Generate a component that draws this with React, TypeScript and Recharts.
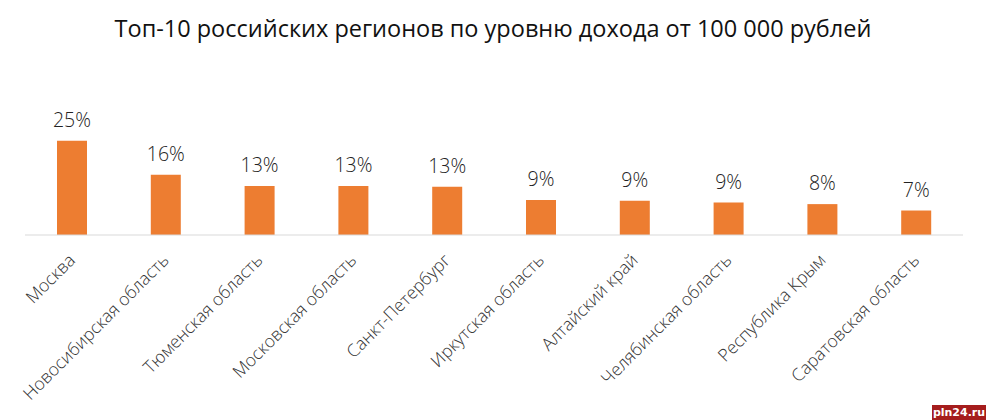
import React from "react"
import { BarChart, Bar, XAxis, YAxis, LabelList } from "recharts"

const regions = [
  "Москва",
  "Новосибирская область",
  "Тюменская область",
  "Московская область",
  "Санкт-Петербург",
  "Иркутская область",
  "Алтайский край",
  "Челябинская область",
  "Республика Крым",
  "Саратовская область",
]

// доля, %
const shares = [25, 16, 13, 13, 12.8, 9.3, 9.1, 8.6, 8.2, 6.5]

const title = "Топ-10 российских регионов по уровню дохода от 100 000 рублей"

const data = regions.map((name, i) => ({ name, share: shares[i] }))

const FONT = "'Open Sans', sans-serif"

function RegionTick(props: any) {
  const { x, y, payload } = props
  return (
    <g transform={`translate(${x},${y + 14}) rotate(-45)`}>
      <text
        x={0}
        y={0}
        dy="0.35em"
        textAnchor="end"
        fill="#333"
        fontSize={17.5}
        fontWeight={300}
        fontFamily={FONT}
      >
        {payload.value}
      </text>
    </g>
  )
}

export default function App() {
  return (
    <div
      style={{
        position: "fixed",
        left: 0,
        top: 0,
        width: 986,
        height: 420,
        background: "#fff",
        overflow: "hidden",
      }}
    >
      <div
        style={{
          position: "absolute",
          left: 0,
          top: 12,
          width: 986,
          textAlign: "center",
          fontFamily: FONT,
          fontSize: 23.5,
          color: "#111",
          whiteSpace: "nowrap",
        }}
      >
        {title}
      </div>

      <BarChart
        width={986}
        height={420}
        data={data}
        margin={{ top: 122, right: 23, bottom: 0, left: 25 }}
      >
        <YAxis hide domain={[0, 30]} />
        <XAxis
          dataKey="name"
          height={185}
          interval={0}
          tickLine={false}
          axisLine={{ stroke: "#d9d9d9", strokeWidth: 1 }}
          tick={<RegionTick />}
        />
        <Bar dataKey="share" fill="#ED7D31" barSize={30} isAnimationActive={false}>
          <LabelList
            dataKey="share"
            position="top"
            offset={14}
            formatter={(v: any) => `${Math.round(Number(v))}%`}
            fill="#222"
            fontSize={19.5}
            fontWeight={300}
            fontFamily={FONT}
          />
        </Bar>
      </BarChart>

      <div
        style={{
          position: "absolute",
          left: 932,
          top: 405,
          width: 54,
          height: 15,
          background: "#a51d1d",
          color: "#fff",
          fontFamily: "'DejaVu Sans', sans-serif",
          fontWeight: 700,
          fontSize: 11,
          lineHeight: "15px",
          textAlign: "center",
        }}
      >
        pln24.ru
      </div>
    </div>
  )
}
